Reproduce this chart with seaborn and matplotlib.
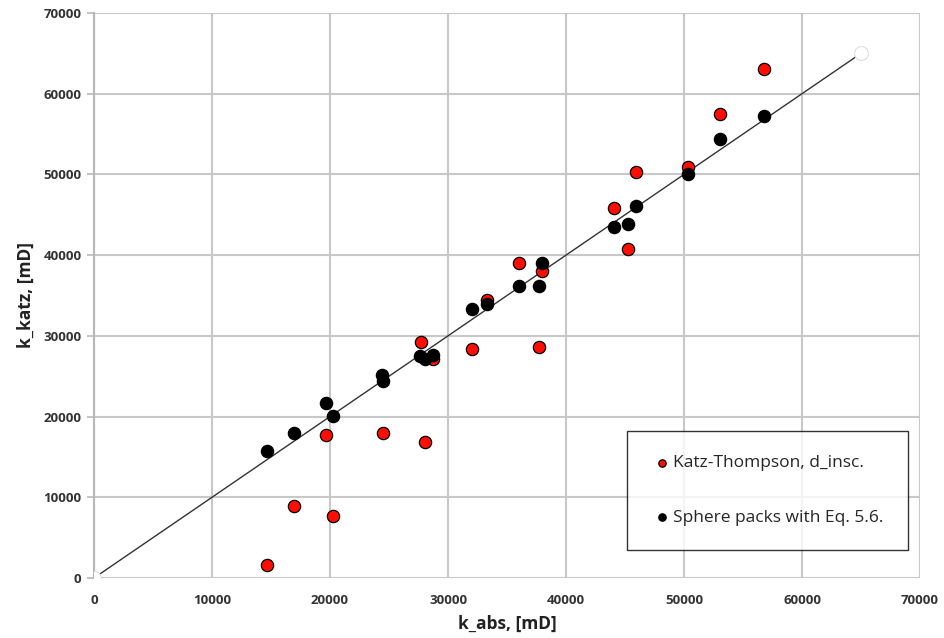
import matplotlib
matplotlib.use("Agg")
import matplotlib.pyplot as plt
import seaborn as sns
import pandas as pd

# Data
katz_x = [14660, 16950, 19660, 20250, 24490, 27710, 28050, 28730, 32030, 33300,
          36020, 37710, 37970, 44070, 45260, 45930, 50340, 53050, 56780]
katz_y = [1600, 8900, 17700, 7700, 17950, 29200, 16850, 27150, 28350, 34450,
          39000, 28650, 38050, 45850, 40750, 50300, 50900, 57500, 63050]

sphere_x = [14660, 16950, 19660, 20250, 24410, 24490, 27630, 28050, 28730, 32030,
            33300, 36020, 37710, 37970, 44070, 45260, 45930, 50340, 53050, 56780]
sphere_y = [15750, 17950, 21700, 20050, 25150, 24400, 27500, 27150, 27600, 33300,
            33950, 36200, 36200, 39000, 43500, 43850, 46100, 50050, 54400, 57250]

line_x = [0, 65000]
line_y = [0, 65000]

label_katz = "Katz-Thompson, d_insc."
label_sphere = "Sphere packs with Eq. 5.6."
x_label = "k_abs, [mD]"
y_label = "k_katz, [mD]"
ticks = [0, 10000, 20000, 30000, 40000, 50000, 60000, 70000]

sns.set_style("white")
plt.rcParams['font.family'] = ['Open Sans', 'DejaVu Sans']

fig = plt.figure(figsize=(9.44, 6.38), dpi=100)
ax = fig.add_axes([94/944, 1 - 578/638, (920-94)/944, (578-13)/638])

# 1:1 line with white end markers
sns.lineplot(x=line_x, y=line_y, ax=ax, color="#333333", linewidth=1.0,
             marker="o", markersize=10, markerfacecolor="white",
             markeredgecolor="#dddddd", zorder=3, legend=False)

df_k = pd.DataFrame({"x": katz_x, "y": katz_y})
df_s = pd.DataFrame({"x": sphere_x, "y": sphere_y})

sns.scatterplot(data=df_k, x="x", y="y", ax=ax, color="#ff0d00", edgecolor="black",
                linewidth=0.9, s=78, zorder=4, label=label_katz)
sns.scatterplot(data=df_s, x="x", y="y", ax=ax, color="black", edgecolor="black",
                linewidth=0.9, s=78, zorder=5, label=label_sphere)

ax.set_xlim(0, 70000)
ax.set_ylim(0, 70000)
ax.set_xticks(ticks)
ax.set_yticks(ticks)
ax.set_xticklabels([str(t) for t in ticks])
ax.set_yticklabels([str(t) for t in ticks])
ax.grid(True, color="#c8c8c8", linewidth=1.5)
ax.set_axisbelow(True)
for s in ["top", "right", "bottom"]:
    ax.spines[s].set_visible(False)
ax.spines["left"].set_color("#b8b8b8")
ax.spines["left"].set_linewidth(1.5)

ax.tick_params(axis="y", which="both", left=True, length=5, width=1.2, color="#b8b8b8",
               labelsize=9.5, labelcolor="#333333", pad=4)
ax.tick_params(axis="x", which="both", bottom=False, labelsize=9.5, labelcolor="#333333", pad=8)
for lab in ax.get_xticklabels() + ax.get_yticklabels():
    lab.set_fontweight("bold")

ax.set_xlabel(x_label, fontsize=12.5, fontweight="bold", color="#222222", labelpad=6)
ax.set_ylabel(y_label, fontsize=12.5, fontweight="bold", color="#222222", labelpad=6)

leg = ax.legend(loc="lower right", bbox_to_anchor=(908/944, 1 - 550/638),
                bbox_transform=fig.transFigure, frameon=True, fancybox=False,
                fontsize=12.5, markerscale=0.6, handletextpad=0.05, borderpad=1.4,
                labelspacing=2.2, handlelength=1.2, borderaxespad=0)
leg.get_frame().set_edgecolor("black")
leg.get_frame().set_linewidth(1.0)
leg.get_frame().set_facecolor("white")
leg.set_zorder(10)

fig.savefig("out.png", dpi=100)
